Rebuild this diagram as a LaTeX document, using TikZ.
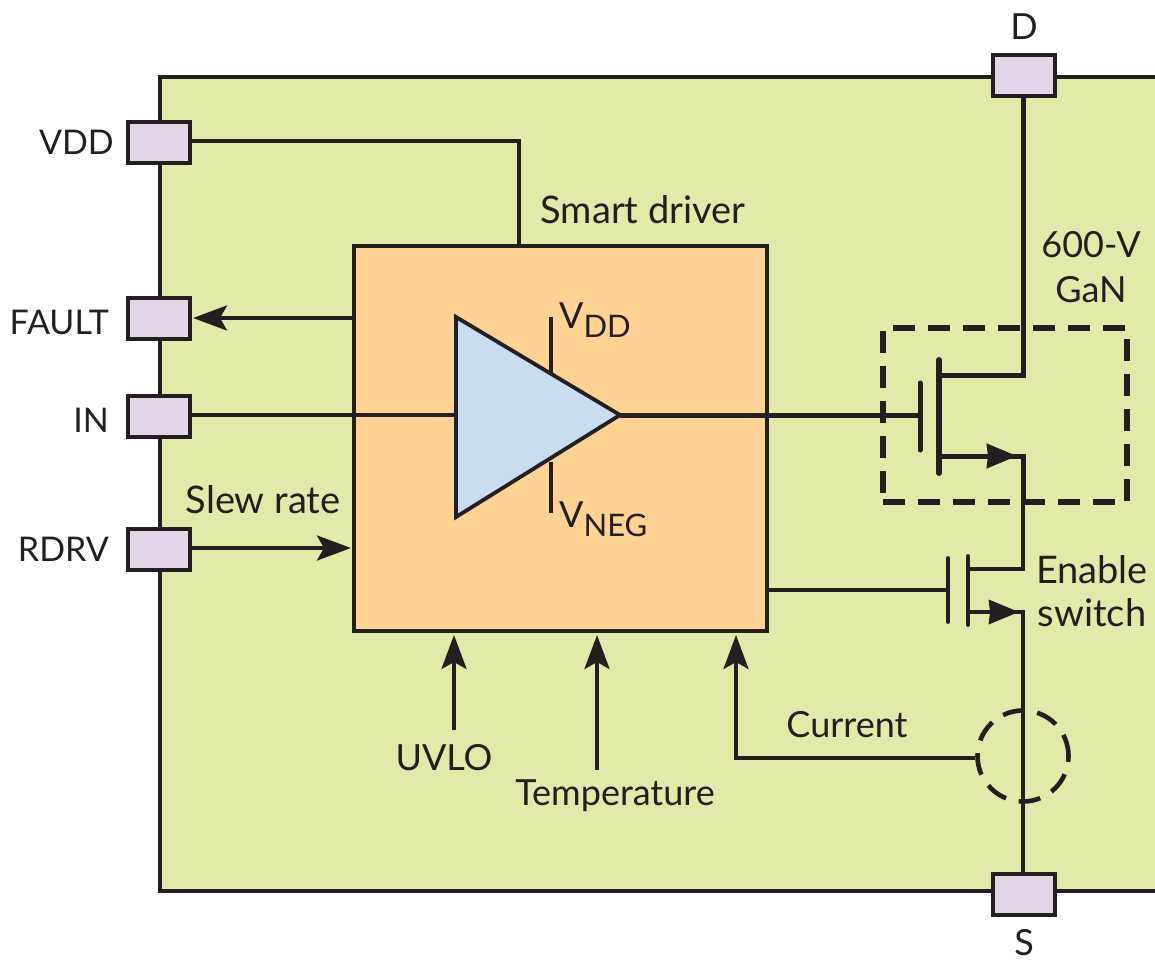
\documentclass[tikz,border=0pt]{standalone}
\usepackage{fontspec}
\setmainfont{Lato}
\usetikzlibrary{arrows.meta}
\definecolor{chipgreen}{HTML}{E1EAA8}
\definecolor{drvorange}{HTML}{FDD292}
\definecolor{ampblue}{HTML}{C9DCF0}
\definecolor{padpurple}{HTML}{E2D5E8}
\definecolor{ink}{HTML}{231F20}
\tikzset{
  x=1pt,y=-1pt,
  every path/.style={color=ink},
  wire/.style={draw=ink,line width=3.8pt},
  thickwire/.style={draw=ink,line width=5pt},
  pad/.style={draw=ink,fill=padpurple,line width=4pt,minimum width=62pt,minimum height=41pt,inner sep=0pt,outer sep=0pt},
  lbl/.style={text=ink,inner sep=0pt,font=\fontsize{36}{40}\selectfont,align=center},
  sidelbl/.style={text=ink,inner sep=0pt,font=\fontsize{34}{40}\selectfont},
  biglbl/.style={text=ink,inner sep=0pt,font=\fontsize{38}{42}\selectfont,align=center},
  tip/.style={-{Stealth[length=34pt,width=25pt,inset=7pt]}},
  soliddart/.style={-{Stealth[length=30pt,width=24pt,inset=1pt]}},
  dashbox/.style={draw=ink,line width=5.5pt,dash pattern=on 22pt off 13pt},
}
\newcommand{\subtxt}[2]{#1\raisebox{-9pt}{\fontsize{31}{34}\selectfont #2}}
\begin{document}
\begin{tikzpicture}
\useasboundingbox (0,0) rectangle (1155,960);
% chip body (open to the right)
\path[fill=chipgreen] (160,77) rectangle (1155,891);
\coordinate (chipTL) at (160,77);
\coordinate (chipTR) at (1155,77);
\coordinate (chipBL) at (160,891);
\coordinate (chipBR) at (1155,891);
\draw[wire] (chipTR) -- (chipTL) -- (chipBL) -- (chipBR);
% pads
\node[pad] (vdd) at (159,143) {};
\node[pad] (fault) at (159,318) {};
\node[pad] (in) at (159,416.500) {};
\node[pad] (rdrv) at (159,549) {};
\node[pad] (d) at (1023.500,76) {};
\node[pad] (s) at (1023.500,894) {};
% driver
\node[draw=ink,fill=drvorange,line width=3.8pt,minimum width=413pt,minimum height=385pt,inner sep=0pt,outer sep=0pt] (drv) at (560.500,438.500) {};
% nets through the driver
\coordinate (ampin) at (456,415);
\coordinate (ampout) at (620,415);
\coordinate (g1) at (920,415);
\draw[wire] (in.east |- ampin) -- (ampin);
\draw[thickwire] (ampout) -- (g1);
\coordinate (vtop) at (551,317);
\coordinate (vtopend) at (551,375);
\coordinate (vbot) at (551,513);
\coordinate (vbotend) at (551,462);
\draw[wire] (vtop) -- (vtopend);
\draw[wire] (vbot) -- (vbotend);
% amplifier
\coordinate (a1) at (456,317);
\coordinate (a2) at (456,517);
\draw[fill=ampblue,draw=ink,line width=3.8pt,line join=miter] (a1) -- (ampout) -- (a2) -- cycle;
% left connections
\coordinate (vddin) at (519,246);
\draw[wire] (vdd.east |- 0,141) -| (vddin);
\draw[wire,tip] (drv.west |- fault) -- ([xshift=3pt]fault.east);
\draw[wire,tip] (rdrv.east |- 0,548) -- (351,548);
% main GaN transistor
\coordinate (g1t) at (920,383);
\coordinate (g1b) at (920,450);
\coordinate (c1t) at (939,360);
\coordinate (c1b) at (939,473);
\coordinate (c1d) at (939,375);
\coordinate (c1s) at (939,456);
\coordinate (rail1) at (1023,375);
\coordinate (rail2) at (1023,456);
\draw[thickwire,line cap=round] (g1t) -- (g1b);
\draw[line width=6pt,line cap=round] (c1t) -- (c1b);
\draw[thickwire,line join=miter] (c1d) -- (rail1) -- (d.south -| rail1);
\draw[thickwire,line join=miter] (c1s) -- (rail2) -- (1023,502);
\draw[thickwire,soliddart] (c1s) -- (1017,456);
\node[dashbox,minimum width=244pt,minimum height=174pt,inner sep=0pt] (gan) at (1005,415) {};
% enable switch
\coordinate (g2) at (948,590);
\coordinate (g2t) at (948,558);
\coordinate (g2b) at (948,622);
\coordinate (c2t) at (968,556);
\coordinate (c2b) at (968,625);
\coordinate (c2d) at (968,569);
\coordinate (c2s) at (968,612);
\coordinate (rail3) at (1023,569);
\coordinate (rail4) at (1023,612);
\draw[wire,line cap=round] (g2t) -- (g2b);
\draw[wire,line cap=round] (c2t) -- (c2b);
\draw[wire] (drv.east |- g2) -- (g2);
\draw[wire,line join=miter] (c2d) -- (rail3) -- (1023,502);
\draw[wire,line join=miter] (c2s) -- (rail4) -- (s.north -| rail4);
\draw[wire,soliddart] (c2s) -- (1019,612);
% current sense
\node[draw=ink,dash pattern=on 22pt off 13pt,line width=4.6pt,circle,minimum size=91pt,inner sep=0pt] (sense) at (1023,756) {};
\coordinate (curin) at (736,635);
\draw[wire,tip] (sense.west |- 0,758) -| (curin);
\coordinate (uvloS) at (454,730);
\coordinate (uvloE) at (454,635);
\coordinate (tempS) at (597,770);
\coordinate (tempE) at (597,635);
\draw[wire,tip] (uvloS) -- (uvloE);
\draw[wire,tip] (tempS) -- (tempE);
% labels
\node[sidelbl,anchor=east] (tvdd) at (114,142) {VDD};
\node[sidelbl,anchor=east] (tfault) at (109,322) {FAULT};
\node[sidelbl,anchor=east] (tin) at (109,420) {IN};
\node[sidelbl,anchor=east] (trdrv) at (109,549) {RDRV};
\node[lbl] (td) at (1024,27) {D};
\node[lbl] (ts) at (1024,943) {S};
\node[biglbl] (tsmart) at (643,210) {Smart driver};
\node[biglbl] (tslew) at (263,500) {Slew rate};
\node[lbl,anchor=base west] (tvd) at (559,328) {\subtxt{V}{DD}};
\node[lbl,anchor=base west] (tvn) at (559,527) {\subtxt{V}{NEG}};
\node[lbl] (tgan1) at (1091,245) {600-V};
\node[lbl] (tgan2) at (1091,290) {GaN};
\node[biglbl] (ten1) at (1092,570) {Enable};
\node[biglbl] (ten2) at (1092,613) {switch};
\node[lbl] (tcur) at (847,725) {Current};
\node[lbl] (tuv) at (444,758) {UVLO};
\node[lbl] (ttemp) at (615,796) {Temperature};
\end{tikzpicture}
\end{document}
